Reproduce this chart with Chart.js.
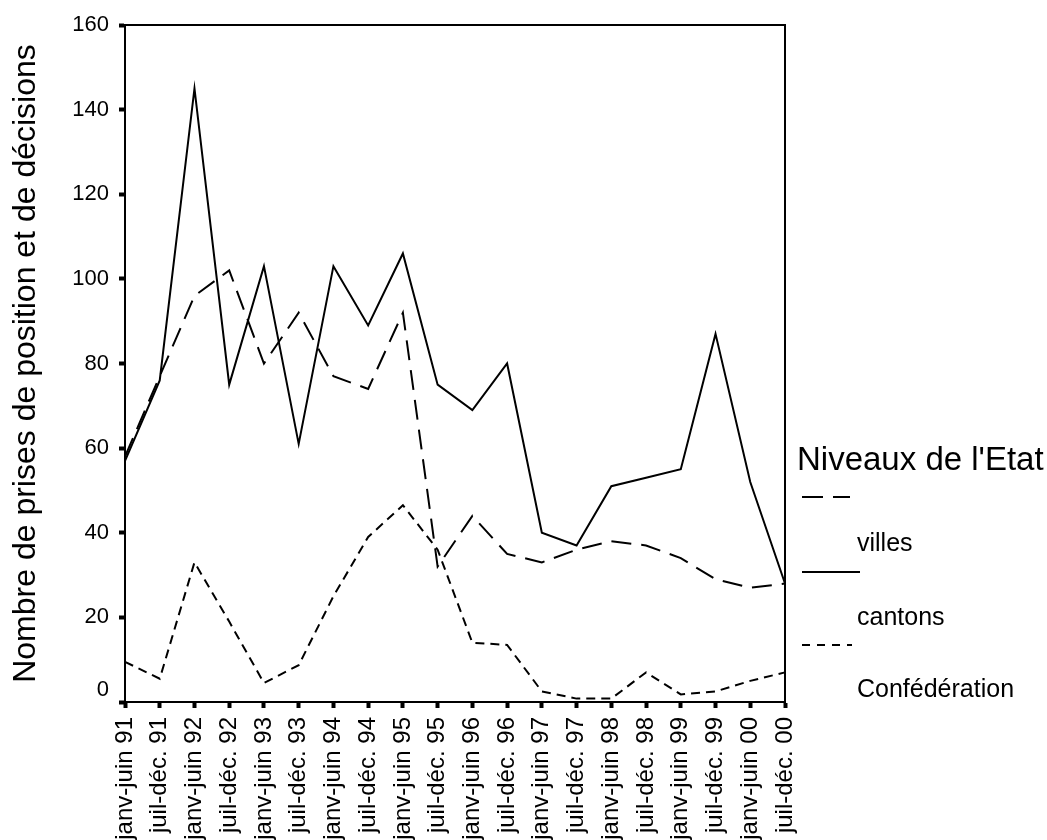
<!DOCTYPE html>
<html>
<head>
<meta charset="utf-8">
<script src="https://cdn.jsdelivr.net/npm/chart.js@4.4.1/dist/chart.umd.min.js"></script>
<style>
  html, body { margin: 0; padding: 0; background: #fff; }
  #wrap { width: 1047px; height: 840px; }
</style>
</head>
<body>
<div id="wrap"><canvas id="c" width="1047" height="840"></canvas></div>
<script>
const categories = [
  "janv-juin 91", "juil-déc. 91", "janv-juin 92", "juil-déc. 92", "janv-juin 93",
  "juil-déc. 93", "janv-juin 94", "juil-déc. 94", "janv-juin 95", "juil-déc. 95",
  "janv-juin 96", "juil-déc. 96", "janv-juin 97", "juil-déc. 97", "janv-juin 98",
  "juil-déc. 98", "janv-juin 99", "juil-déc. 99", "janv-juin 00", "juil-déc. 00"
];
const villes = [58, 77, 96, 102, 80, 92, 77, 74, 92, 32, 44, 35, 33, 36, 38, 37, 34, 29, 27, 28];
const cantons = [57, 76, 145, 75, 103, 61, 103, 89, 106, 75, 69, 80, 40, 37, 51, 53, 55, 87, 52, 28];
const confederation = [9.5, 5.5, 33, 19, 4.5, 8.7, 25, 39, 46.5, 36, 14, 13.5, 2.5, 0.8, 0.8, 7, 1.8, 2.5, 5, 7];
const yTicks = [0, 20, 40, 60, 80, 100, 120, 140, 160];
const yTitle = "Nombre de prises de position et de décisions";
const legendTitle = "Niveaux de l'Etat";
const seriesNames = ["villes", "cantons", "Confédération"];

const FONT = "'Liberation Sans', Arial, sans-serif";

const legendPlugin = {
  id: 'customDecor',
  afterDraw(chart) {
    const ctx = chart.ctx;
    const a = chart.chartArea;
    ctx.save();
    // frame top and right
    ctx.strokeStyle = '#000';
    ctx.lineWidth = 2;
    ctx.setLineDash([]);
    ctx.beginPath();
    ctx.moveTo(a.left, a.top);
    ctx.lineTo(a.right, a.top);
    ctx.lineTo(a.right, a.bottom);
    ctx.stroke();

    // zero tick label (raised as in the reference)
    const ys = chart.scales.y;
    ctx.fillStyle = '#000';
    ctx.font = "22px " + FONT;
    ctx.textAlign = 'right';
    ctx.textBaseline = 'middle';
    ctx.fillText(String(yTicks[0]), a.left - 16, ys.getPixelForValue(yTicks[0]) - 12);

    // legend
    const lx = a.right + 12;
    ctx.textAlign = 'left';
    ctx.textBaseline = 'alphabetic';
    ctx.font = "33px " + FONT;
    ctx.fillText(legendTitle, lx, 470);
    const samples = [
      {y: 497, dash: [21, 10], x2: lx + 53, ty: 551},
      {y: 572, dash: [], x2: lx + 63, ty: 625},
      {y: 645, dash: [8, 7], x2: lx + 55, ty: 697}
    ];
    ctx.font = "25px " + FONT;
    samples.forEach((s, i) => {
      ctx.lineWidth = 2;
      ctx.setLineDash(s.dash);
      ctx.beginPath();
      ctx.moveTo(lx + 5, s.y);
      ctx.lineTo(s.x2, s.y);
      ctx.stroke();
      ctx.setLineDash([]);
      ctx.fillText(seriesNames[i], lx + 60, s.ty);
    });
    ctx.restore();
  }
};

new Chart(document.getElementById('c'), {
  type: 'line',
  data: {
    labels: categories,
    datasets: [
      { label: seriesNames[0], data: villes, borderColor: '#000', borderWidth: 2, borderDash: [20, 10], pointRadius: 0, fill: false, tension: 0 },
      { label: seriesNames[1], data: cantons, borderColor: '#000', borderWidth: 2, pointRadius: 0, fill: false, tension: 0 },
      { label: seriesNames[2], data: confederation, borderColor: '#000', borderWidth: 2, borderDash: [9, 6], pointRadius: 0, fill: false, tension: 0 }
    ]
  },
  options: {
    responsive: false,
    animation: false,
    devicePixelRatio: 1,
    layout: { padding: { left: 0, top: 25, right: 262, bottom: 0 } },
    plugins: { legend: { display: false }, tooltip: { enabled: false }, title: { display: false } },
    scales: {
      x: {
        type: 'category',
        offset: false,
        grid: { drawOnChartArea: false, offset: false, tickLength: 6, tickWidth: 4, color: '#000' },
        border: { display: true, color: '#000', width: 2 },
        ticks: {
          autoSkip: false, minRotation: 90, maxRotation: 90, padding: 9,
          color: '#000', font: { family: FONT, size: 24 }
        },
        afterFit(scale) { scale.height = 138; }
      },
      y: {
        min: 0, max: 160,
        afterBuildTicks(scale) { scale.ticks = yTicks.map(v => ({ value: v })); },
        grid: { drawOnChartArea: false, tickLength: 6, tickWidth: 4, color: '#000' },
        border: { display: true, color: '#000', width: 2 },
        ticks: {
          padding: 10, color: '#000', font: { family: FONT, size: 22 },
          callback: (v) => v === yTicks[0] ? '' : String(v)
        },
        title: { display: true, text: yTitle, color: '#000', font: { family: FONT, size: 32 }, padding: { top: 7, bottom: 0 } },
        afterFit(scale) { scale.width = 125; }
      }
    }
  },
  plugins: [legendPlugin]
});
</script>
</body>
</html>
